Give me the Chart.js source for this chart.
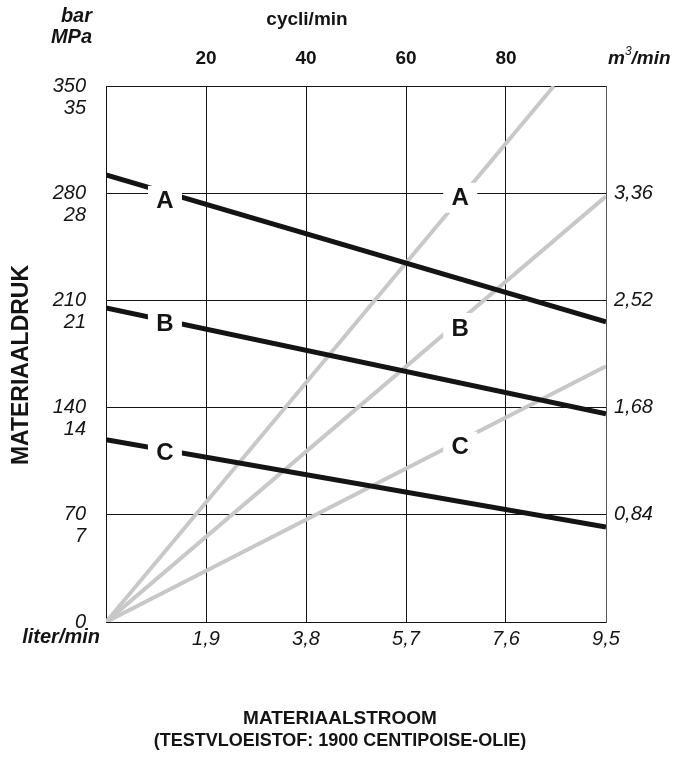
<!DOCTYPE html>
<html>
<head>
<meta charset="utf-8">
<script src="https://cdn.jsdelivr.net/npm/chart.js@4"></script>
<style>
  html, body { margin: 0; padding: 0; background: #ffffff; }
  #wrap { width: 679px; height: 763px; }
</style>
</head>
<body>
<div id="wrap"><canvas id="chart" width="679" height="763"></canvas></div>
<script>
// tick labels
const flowTicks = ["1,9", "3,8", "5,7", "7,6", "9,5"];      // liter/min
const cycleTicks = [20, 40, 60, 80];                        // cycli/min
const barTicks = [0, 70, 140, 210, 280, 350];
const mpaTicks = [0, 7, 14, 21, 28, 35];
const airTicks = ["0,84", "1,68", "2,52", "3,36"];          // m3/min

// material pressure (bar) vs flow (l/min), black lines
const flowX = [0, 9.5];
const pressA = [292, 196];
const pressB = [205, 136];
const pressC = [119, 62];

// air consumption lines (grey), through origin
const airAx = [0, 8.51];
const airAy = [0, 350];
const airBx = [0, 9.5];
const airBy = [0, 278];
const airCx = [0, 9.5];
const airCy = [0, 167];

const FONT = "'Liberation Sans', Arial, Helvetica, sans-serif";
const BLACK = "#141414";
const GREY = "#c8c8c8";

const pts = (xs, ys) => xs.map((x, i) => ({ x: x, y: ys[i] }));

// curve letters, placed in data units
const curveLabels = [
    { text: "A", x: 1.12, y: 275 },
    { text: "B", x: 1.12, y: 195 },
    { text: "C", x: 1.12, y: 110.5 },
    { text: "A", x: 6.73, y: 277 },
    { text: "B", x: 6.73, y: 192 },
    { text: "C", x: 6.73, y: 114.5 },
];

const curveLabelPlugin = {
    id: "curveLabels",
    afterDatasetsDraw(chart) {
        const ctx = chart.ctx;
        const xs = chart.scales.x;
        const ys = chart.scales.y;
        ctx.save();
        ctx.font = `bold 24px ${FONT}`;
        ctx.textAlign = "center";
        ctx.textBaseline = "middle";
        curveLabels.forEach((l) => {
            const px = xs.getPixelForValue(l.x);
            const py = ys.getPixelForValue(l.y);
            ctx.fillStyle = "#ffffff";
            ctx.fillRect(px - 17, py - 15, 34, 30);
            ctx.fillStyle = BLACK;
            ctx.fillText(l.text, px, py + 1);
        });
        ctx.restore();
    },
};

const textPlugin = {
    id: "freeText",
    afterDraw(chart) {
        const ctx = chart.ctx;
        ctx.save();
        ctx.fillStyle = BLACK;
        ctx.textBaseline = "middle";

        ctx.font = `italic bold 20px ${FONT}`;
        ctx.textAlign = "right";
        ctx.fillText("bar", 92, 16);
        ctx.fillText("MPa", 92, 37);
        ctx.fillText("liter/min", 100, 637);

        ctx.font = `bold 19px ${FONT}`;
        ctx.textAlign = "center";
        ctx.fillText("cycli/min", 307, 20);

        // m3/min with superscript
        ctx.textAlign = "left";
        ctx.font = `italic bold 19px ${FONT}`;
        let x = 608;
        ctx.fillText("m", x, 59);
        x += ctx.measureText("m").width;
        ctx.font = `italic 12px ${FONT}`;
        ctx.fillText("3", x, 52);
        x += ctx.measureText("3").width;
        ctx.font = `italic bold 19px ${FONT}`;
        ctx.fillText("/min", x, 59);

        ctx.textAlign = "center";
        ctx.font = `bold 19px ${FONT}`;
        ctx.fillText("MATERIAALSTROOM", 340, 719);
        ctx.font = `bold 18px ${FONT}`;
        ctx.fillText("(TESTVLOEISTOF: 1900 CENTIPOISE-OLIE)", 340, 741);

        ctx.translate(22, 365);
        ctx.rotate(-Math.PI / 2);
        ctx.font = `bold 23px ${FONT}`;
        ctx.fillText("MATERIAALDRUK", 0, 0);
        ctx.restore();
    },
};

const ctx = document.getElementById("chart");

new Chart(ctx, {
    type: "line",
    data: {
        datasets: [
            { data: pts(flowX, pressA), borderColor: BLACK, borderWidth: 5, order: 1 },
            { data: pts(flowX, pressB), borderColor: BLACK, borderWidth: 5, order: 1 },
            { data: pts(flowX, pressC), borderColor: BLACK, borderWidth: 5, order: 1 },
            { data: pts(airAx, airAy), borderColor: GREY, borderWidth: 4, order: 2 },
            { data: pts(airBx, airBy), borderColor: GREY, borderWidth: 4, order: 2 },
            { data: pts(airCx, airCy), borderColor: GREY, borderWidth: 4, order: 2 },
        ],
    },
    options: {
        responsive: false,
        animation: false,
        events: [],
        layout: { padding: 0 },
        elements: { point: { radius: 0 }, line: { tension: 0, borderCapStyle: "butt" } },
        plugins: { legend: { display: false }, tooltip: { enabled: false } },
        scales: {
            x: {
                type: "linear",
                position: "bottom",
                min: 0,
                max: 9.5,
                afterFit: (s) => { s.height = 141; },
                ticks: {
                    stepSize: 1.9,
                    padding: 5,
                    color: BLACK,
                    font: { family: FONT, size: 20, style: "italic" },
                    maxRotation: 0,
                    autoSkip: false,
                    callback: (v, i) => (i === 0 ? "" : flowTicks[i - 1]),
                },
                grid: { color: BLACK, lineWidth: 1, drawTicks: false },
                border: { color: BLACK, width: 1 },
            },
            x2: {
                type: "linear",
                position: "top",
                min: 0,
                max: 100,
                afterFit: (s) => { s.height = 86; },
                ticks: {
                    stepSize: 20,
                    padding: 16,
                    color: BLACK,
                    font: { family: FONT, size: 19, weight: "bold" },
                    maxRotation: 0,
                    autoSkip: false,
                    callback: (v) => (cycleTicks.includes(v) ? String(v) : ""),
                },
                grid: { drawOnChartArea: false, drawTicks: false },
                border: { color: BLACK, width: 1 },
            },
            y: {
                type: "linear",
                position: "left",
                min: 0,
                max: 350,
                afterFit: (s) => { s.width = 106; },
                ticks: {
                    stepSize: 70,
                    padding: 20,
                    labelOffset: 11,
                    color: BLACK,
                    font: { family: FONT, size: 20, style: "italic", lineHeight: 1.1 },
                    callback: (v) => {
                        const i = barTicks.indexOf(v);
                        if (i === 0) return ["0", ""];
                        return [String(barTicks[i]), String(mpaTicks[i])];
                    },
                },
                grid: { color: BLACK, lineWidth: 1, drawTicks: false },
                border: { color: BLACK, width: 1 },
            },
            y2: {
                type: "linear",
                position: "right",
                min: 0,
                max: 350,
                afterFit: (s) => { s.width = 73; },
                ticks: {
                    stepSize: 70,
                    padding: 8,
                    color: BLACK,
                    font: { family: FONT, size: 20, style: "italic" },
                    callback: (v) => {
                        const i = barTicks.indexOf(v);
                        return i > 0 && i <= airTicks.length ? airTicks[i - 1] : "";
                    },
                },
                grid: { drawOnChartArea: false, drawTicks: false },
                border: { color: "#555555", width: 1 },
            },
        },
    },
    plugins: [curveLabelPlugin, textPlugin],
});
</script>
</body>
</html>
